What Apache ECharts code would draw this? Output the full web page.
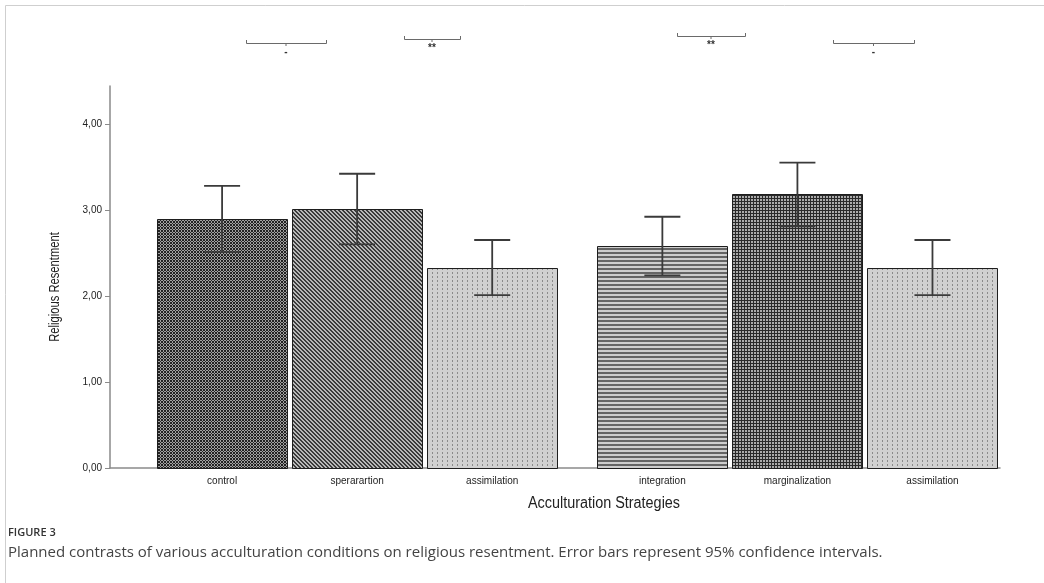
<!DOCTYPE html>
<html>
<head>
<meta charset="utf-8">
<script src="https://cdn.jsdelivr.net/npm/echarts@6/dist/echarts.min.js"></script>
<style>
  html, body { margin: 0; padding: 0; background: #fff; }
  #chart { width: 1044px; height: 583px; }
</style>
</head>
<body>
<div id="chart"></div>
<script>
// Group means with 95% confidence limits
const categories = ['control', 'sperarartion', 'assimilation', 'integration', 'marginalization', 'assimilation'];
const means = [2.89, 3.01, 2.33, 2.58, 3.18, 2.33];
const ciLower = [2.51, 2.60, 2.01, 2.24, 2.81, 2.01];
const ciUpper = [3.28, 3.42, 2.65, 2.92, 3.55, 2.65];
const yTicks = [0, 1, 2, 3, 4];
const bracketLabels = ['-', '**', '**', '-'];

// Horizontal layout, in slot units: two groups of three bars with a gap between them
const LEFT_PAD = 0.33;
const GROUP_GAP = 0.26;
const BAR_W = 0.963;
const X_MAX = LEFT_PAD + categories.length + GROUP_GAP;
const centers = categories.map((_, i) => LEFT_PAD + 0.5 + i + (i >= 3 ? GROUP_GAP : 0));

// Monochrome fill patterns built on small canvas tiles
function tile(w, h, paint) {
  const c = document.createElement('canvas');
  c.width = w; c.height = h;
  const ctx = c.getContext('2d');
  for (let y = 0; y < h; y++) {
    for (let x = 0; x < w; x++) {
      ctx.fillStyle = paint(x, y);
      ctx.fillRect(x, y, 1, 1);
    }
  }
  return { image: c, repeat: 'repeat' };
}
const dotted = tile(5, 4, (x, y) => (x === 2 && y < 2) ? '#8a8a8a' : '#d0d0d0');
const patterns = [
  // dense cross-hatch
  tile(3, 3, (x, y) => (x === y || x + y === 2) ? '#222' : '#a0a0a0'),
  // back diagonal lines
  tile(4, 4, (x, y) => ((x - y + 4) % 4 < 2) ? '#3a3a3a' : '#b8b8b8'),
  dotted,
  // horizontal stripes
  tile(1, 4, (x, y) => (y < 2) ? '#646464' : '#cdcdcd'),
  // square grid
  tile(3, 3, (x, y) => (x === 0 || y === 0) ? '#2a2a2a' : '#ababab'),
  dotted
];

const fmt = v => v.toFixed(2).replace('.', ',');
const NARROW = 'Liberation Sans, Arial, sans-serif';

const chart = echarts.init(document.getElementById('chart'), null, { renderer: 'canvas' });

chart.setOption({
  animation: false,
  backgroundColor: '#fff',
  grid: { left: 110, right: 44, top: 86, bottom: 115 },
  xAxis: {
    type: 'value',
    min: 0,
    max: X_MAX,
    splitLine: { show: false },
    axisLine: { show: true, onZero: false, lineStyle: { color: '#8a8a8a', width: 1.5 } },
    axisTick: { show: false },
    axisLabel: {
      customValues: centers,
      formatter: v => {
        let best = 0;
        centers.forEach((c, i) => { if (Math.abs(c - v) < Math.abs(centers[best] - v)) best = i; });
        return categories[best];
      },
      fontFamily: NARROW,
      fontSize: 10,
      color: '#222',
      margin: 8
    }
  },
  yAxis: {
    type: 'value',
    min: 0,
    max: 4.44,
    interval: 1,
    splitLine: { show: false },
    axisLine: { show: true, lineStyle: { color: '#8a8a8a', width: 1.5 } },
    axisTick: { show: true, customValues: yTicks, length: 5, lineStyle: { color: '#8a8a8a' } },
    axisLabel: {
      customValues: yTicks,
      formatter: fmt,
      fontFamily: NARROW,
      fontSize: 10,
      color: '#222',
      margin: 8
    }
  },
  series: [
    {
      type: 'custom',
      name: 'bars',
      data: means.map((m, i) => [centers[i], m, i]),
      encode: { x: 0, y: 1 },
      renderItem: (params, api) => {
        const i = api.value(2);
        const c = api.value(0);
        const tl = api.coord([c - BAR_W / 2, api.value(1)]);
        const br = api.coord([c + BAR_W / 2, 0]);
        return {
          type: 'rect',
          shape: { x: Math.round(tl[0]) + 0.5, y: Math.round(tl[1]) + 0.5, width: Math.round(br[0] - tl[0]), height: Math.round(br[1] - tl[1]) },
          style: { fill: patterns[i], stroke: '#1e1e1e', lineWidth: 1 }
        };
      },
      z: 2
    },
    {
      type: 'custom',
      name: 'ci',
      data: ciLower.map((lo, i) => [centers[i], lo, ciUpper[i]]),
      encode: { x: 0, y: [1, 2] },
      renderItem: (params, api) => {
        const c = api.value(0);
        const lo = api.coord([c, api.value(1)]);
        const hi = api.coord([c, api.value(2)]);
        const half = 18;
        const st = { stroke: '#3a3a3a', lineWidth: 1.8 };
        return {
          type: 'group',
          children: [
            { type: 'line', shape: { x1: lo[0], y1: lo[1], x2: hi[0], y2: hi[1] }, style: st },
            { type: 'line', shape: { x1: hi[0] - half, y1: hi[1], x2: hi[0] + half, y2: hi[1] }, style: st },
            { type: 'line', shape: { x1: lo[0] - half, y1: lo[1], x2: lo[0] + half, y2: lo[1] }, style: st }
          ]
        };
      },
      z: 3
    }
  ]
});

// Significance brackets above the plot
const bracketGeom = [
  { x1: 246, x2: 326, y: 43 },
  { x1: 404, x2: 460, y: 39 },
  { x1: 677, x2: 745, y: 36 },
  { x1: 833, x2: 914, y: 43 }
];
const decorations = [
  // figure frame
  { type: 'line', shape: { x1: 5.5, y1: 5.5, x2: 1044, y2: 5.5 }, style: { stroke: '#cfcfcf', lineWidth: 1 } },
  { type: 'line', shape: { x1: 5.5, y1: 5.5, x2: 5.5, y2: 583 }, style: { stroke: '#cfcfcf', lineWidth: 1 } },
  // axis titles, set in a condensed face
  { type: 'text', x: 55, y: 287, rotation: Math.PI / 2, scaleX: 0.8,
    style: { text: 'Religious Resentment', fontFamily: NARROW, fontSize: 14, fill: '#222', align: 'center', verticalAlign: 'middle' } },
  { type: 'text', x: 604, y: 504, scaleX: 0.9,
    style: { text: 'Acculturation Strategies', fontFamily: NARROW, fontSize: 16, fill: '#222', align: 'center', verticalAlign: 'middle' } },
  // caption
  { type: 'text', x: 8, y: 533, style: { text: 'FIGURE 3', fontFamily: 'Open Sans, sans-serif', fontSize: 11, fontWeight: 600, fill: '#333', verticalAlign: 'middle' } },
  { type: 'text', x: 8, y: 553, style: { text: 'Planned contrasts of various acculturation conditions on religious resentment. Error bars represent 95% confidence intervals.', fontFamily: 'Open Sans, sans-serif', fontSize: 15, fill: '#444', verticalAlign: 'middle' } }
];
bracketLabels.forEach((label, i) => {
  const g = bracketGeom[i];
  const mid = (g.x1 + g.x2) / 2;
  const st = { stroke: '#6a6a6a', lineWidth: 1, fill: null };
  decorations.push(
    { type: 'polyline', shape: { points: [[g.x1 + 0.5, g.y - 3], [g.x1 + 0.5, g.y + 0.5], [g.x2 + 0.5, g.y + 0.5], [g.x2 + 0.5, g.y - 3]] }, style: st },
    { type: 'line', shape: { x1: mid, y1: g.y, x2: mid, y2: g.y + 3 }, style: st },
    { type: 'text', x: mid, y: g.y + 9, style: { text: label, fontFamily: NARROW, fontSize: 10, fontWeight: 'bold', fill: '#333', align: 'center', verticalAlign: 'middle' } }
  );
});
chart.setOption({ graphic: decorations });
</script>
</body>
</html>
